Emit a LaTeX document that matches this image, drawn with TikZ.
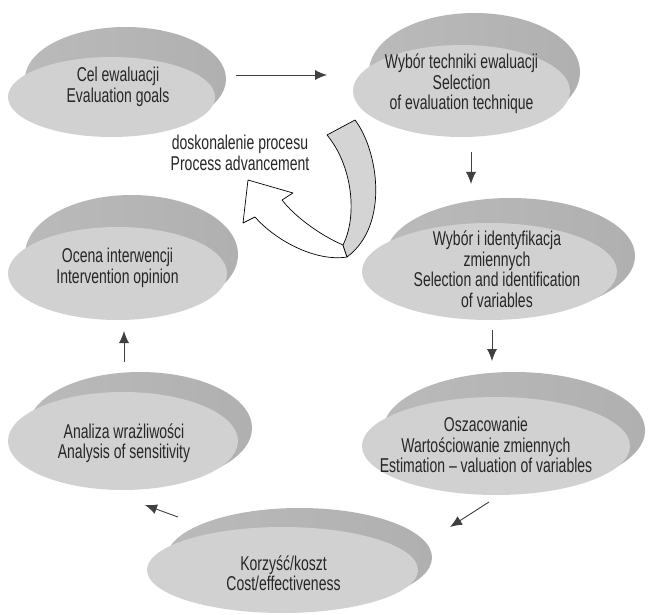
\documentclass[tikz,border=0pt]{standalone}
\usepackage{fontspec}
\setmainfont{Liberation Sans}[FakeStretch=0.7]
\usetikzlibrary{shapes.geometric,arrows.meta}

\newcommand{\mydisc}[7]{%
  \pgfmathsetmacro\dT{(#3-#5)-#6}%
  \pgfmathsetmacro\byc{#3-\dT/2-3}%
  \pgfmathsetmacro\bry{#5+\dT/2-3}%
  \pgfmathsetmacro\brx{#4-3}%
  \pgfmathsetmacro\bxc{#7-\brx}%
  \shade[rimshade] (\bxc,\byc) ellipse [x radius=\brx pt, y radius=\bry pt];
  \node[discface, minimum width=2*#4pt, minimum height=2*#5pt] (#1) at (#2,#3) {};
}

\begin{document}
\begin{tikzpicture}[x=1pt,y=-1pt,
  discface/.style={ellipse, fill=black!18, inner sep=0pt, outer sep=0pt},
  rimshade/.style={left color=black!27, right color=black!31},
  lbl/.style={align=center, text=black!85, font=\fontsize{20}{20.5}\selectfont, inner sep=0pt},
  flow/.style={draw=black!75, line width=0.9pt, -{Latex[length=12pt,width=10pt]}},
  bandline/.style={draw=black, line width=0.7pt, line join=round}]

\fill[white] (0,0) rectangle (648,615);
\useasboundingbox (0,0) rectangle (648,615);

% discs: name, cx, cy, rx, ry, back top, back right
\mydisc{d1}{111.5}{97}{103.5}{40}{27}{226}
\mydisc{d2}{461.5}{91}{108.5}{46}{13}{580}
\mydisc{d3}{117.5}{273.5}{109.5}{46.5}{195}{238}
\mydisc{d4}{489.5}{271.5}{127.5}{48.5}{198}{635}
\mydisc{d5}{123}{441}{115}{49}{372}{252}
\mydisc{d6}{496}{446}{134}{49}{372}{645}
\mydisc{d7}{282.5}{570}{135.5}{43}{508}{432}

% texts
\node[lbl] (t1) at (118,87) {Cel ewaluacji\\Evaluation goals};
\node[lbl] (t2) at (461.5,84) {Wybór techniki ewaluacji\\Selection\\of evaluation technique};
\node[lbl] (t3) at (117.5,268) {Ocena interwencji\\Intervention opinion};
\node[lbl] (t4) at (497,269) {Wybór i identyfikacja\\zmiennych\\Selection and identification\\of variables};
\node[lbl] (t5) at (124,443) {Analiza wrażliwości\\Analysis of sensitivity};
\node[lbl] (t6) at (486,445) {Oszacowanie\\Wartościowanie zmiennych\\Estimation – valuation of variables};
\node[lbl] (t7) at (283.5,573) {Korzyść/koszt\\Cost/effectiveness};
\node[lbl] (pa) at (240,153) {doskonalenie procesu\\Process advancement};

% straight arrows
\coordinate (a12s) at (236,75);  \coordinate (a12e) at (327,75);
\coordinate (a24s) at (471,152); \coordinate (a24e) at (471,184);
\coordinate (a46s) at (492,330); \coordinate (a46e) at (492,361);
\coordinate (a67s) at (489,502); \coordinate (a67e) at (450,527);
\coordinate (a75s) at (178,517); \coordinate (a75e) at (145,505);
\coordinate (a53s) at (124,362); \coordinate (a53e) at (124,331);
\draw[flow] (a12s) -- (a12e);
\draw[flow] (a24s) -- (a24e);
\draw[flow] (a46s) -- (a46e);
\draw[flow] (a67s) -- (a67e);
\draw[flow] (a75s) -- (a75e);
\draw[flow] (a53s) -- (a53e);

% curved feedback arrow
\coordinate (cA) at (327,135);
\coordinate (cB) at (355,120);
\coordinate (cC) at (347,257);
\coordinate (cD) at (343,245);
\coordinate (hRi) at (282,200);
\coordinate (hRb) at (293,193);
\coordinate (hT) at (248,180);
\coordinate (hLb) at (243,223);
\coordinate (hLi) at (255,217);
\path[bandline, fill=white] (cD) .. controls (322,236) and (296,218) .. (hRi)
  -- (hRb) -- (hT) -- (hLb) -- (hLi)
  .. controls (275,240) and (315,262) .. (cC) -- cycle;
\path[bandline, fill=black!17] (cA) -- (cB) .. controls (378,150) and (390,225) .. (cC)
  -- (cD) .. controls (358,215) and (352,165) .. (cA) -- cycle;
\end{tikzpicture}
\end{document}
